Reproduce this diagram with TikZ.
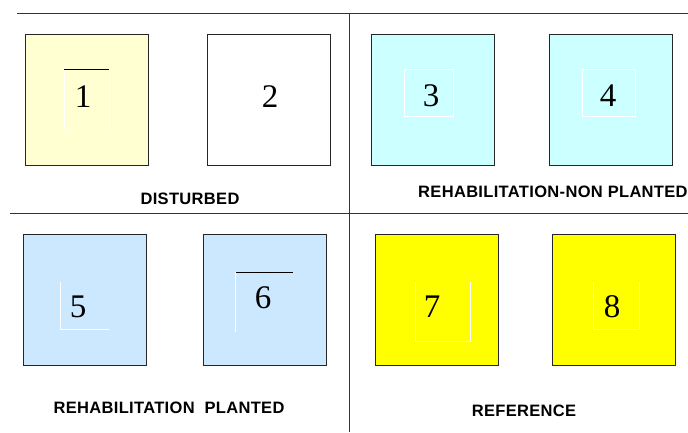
\documentclass[tikz,border=0pt]{standalone}
\usepackage{fontspec}
\setmainfont{Liberation Serif}
\setsansfont{Liberation Sans}[LetterSpace=2]
\begin{document}
\begin{tikzpicture}[x=1pt,y=-1pt,
  plot/.style={draw=black!85,line width=0.9pt,minimum width=123pt,minimum height=131pt,inner sep=0pt,anchor=north west},
  num/.style={font=\fontsize{33}{33}\selectfont,inner sep=0pt},
  lab/.style={font=\sffamily\bfseries\fontsize{16.5}{16.5}\selectfont,inner sep=0pt},
  divider/.style={draw=black!80,line width=0.8pt},
  faint/.style={draw=white,line width=0.4pt},
  blackbar/.style={draw=black,line width=0.9pt}]
\useasboundingbox (0,0) rectangle (688,432);
\definecolor{paleyellow}{HTML}{FFFFD2}
\definecolor{palecyan}{HTML}{CCFFFF}
\definecolor{paleblue}{HTML}{CCE8FF}
\definecolor{brightyellow}{HTML}{FFFF00}
% dividers
\coordinate (tl) at (17,13);
\coordinate (tr) at (688,13);
\coordinate (vt) at (349,13);
\coordinate (vb) at (349,432);
\coordinate (ml) at (10,213);
\coordinate (mr) at (688,213);
\draw[divider] (tl) -- (tr);
\draw[divider] (vt) -- (vb);
\draw[divider] (ml) -- (mr);
% boxes
\node[plot,fill=paleyellow] (b1) at (25,34) {};
\node[plot,fill=white] (b2) at (207,34) {};
\node[plot,fill=palecyan] (b3) at (371,34) {};
\node[plot,fill=palecyan] (b4) at (549,34) {};
\node[plot,fill=paleblue] (b5) at (23,234) {};
\node[plot,fill=paleblue] (b6) at (203,234) {};
\node[plot,fill=brightyellow] (b7) at (375,234) {};
\node[plot,fill=brightyellow] (b8) at (552,234) {};
% faint text-box outlines
\draw[faint] (64,69) -- (64,130) (109,69) -- (109,130);
\draw[faint] (404,69) rectangle (453,116);
\draw[faint] (582,69) rectangle (635,116);
\draw[faint] (60,282) -- (60,329) -- (109,329);
\draw[faint] (235,272) -- (235,332);
\draw[faint] (415,282) -- (415,341) -- (470,341) -- (470,282);
\draw[faint] (593,282) -- (593,329) -- (639,329) -- (639,282);
% black bars
\coordinate (m1a) at (64,69);
\coordinate (m1b) at (109,69);
\coordinate (m6a) at (236,272);
\coordinate (m6b) at (293,272);
\draw[blackbar] (m1a) -- (m1b);
\draw[blackbar] (m6a) -- (m6b);
% numbers
\node[num] (n1) at (83,97) {1};
\node[num] (n2) at (270,97) {2};
\node[num] (n3) at (431,96) {3};
\node[num] (n4) at (608,96) {4};
\node[num] (n5) at (78,307) {5};
\node[num] (n6) at (263,298) {6};
\node[num] (n7) at (432,307) {7};
\node[num] (n8) at (612,307) {8};
% labels
\node[lab] (l1) at (190,199) {DISTURBED};
\node[lab,anchor=west] (l2) at (418,192) {REHABILITATION-NON PLANTED};
\node[lab] (l3) at (169,408) {REHABILITATION\ \ PLANTED};
\node[lab] (l4) at (524,411) {REFERENCE};
\end{tikzpicture}
\end{document}
